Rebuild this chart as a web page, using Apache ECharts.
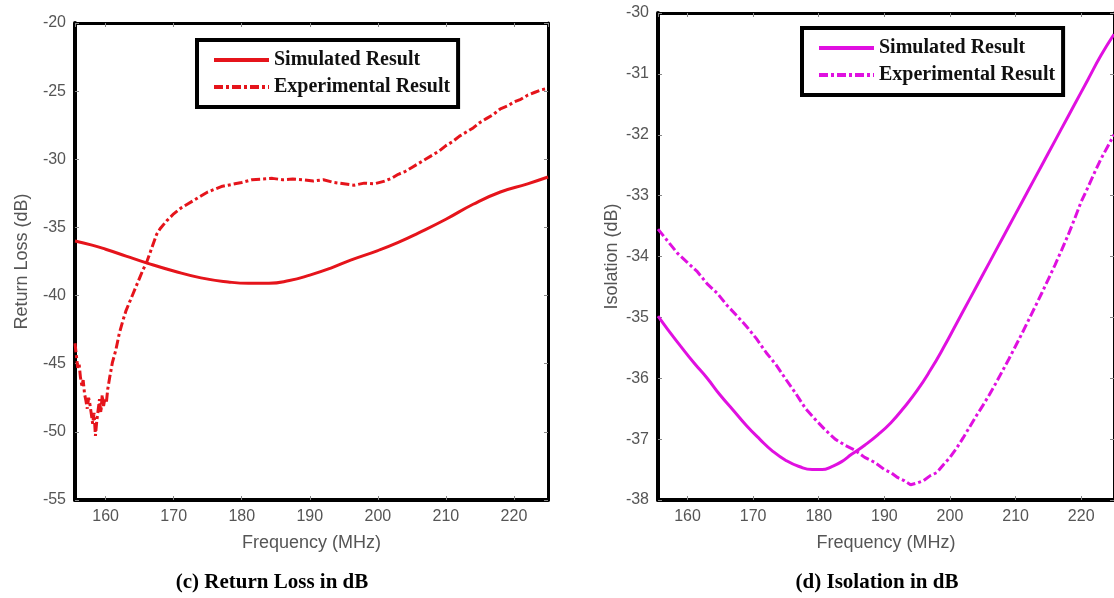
<!DOCTYPE html>
<html>
<head>
<meta charset="utf-8">
<script src="https://cdn.jsdelivr.net/npm/echarts@6/dist/echarts.min.js"></script>
<style>
html,body{margin:0;padding:0;background:#fff;}
#chart{width:1114px;height:598px;}
</style>
</head>
<body>
<div id="chart"></div>
<script>
// ---------- DATA ----------
const seriesNames = ['Simulated Result', 'Experimental Result'];
const captions = ['(c) Return Loss in dB', '(d) Isolation in dB'];
const yNames = ['Return Loss (dB)', 'Isolation (dB)'];
const xName = 'Frequency (MHz)';

// (c) Return loss – simulated [MHz, dB]
const rlSimulated = [
  [155.5,-36.0],[158,-36.3],[160,-36.6],[163,-37.1],[166,-37.6],[170,-38.2],
  [174,-38.7],[178,-39.0],[181,-39.1],[184,-39.1],[187,-38.9],[190,-38.5],
  [193,-38.0],[196,-37.4],[200,-36.7],[203,-36.1],[206,-35.4],[210,-34.4],
  [214,-33.3],[218,-32.4],[222,-31.8],[225,-31.3]
];
// (c) Return loss – experimental
const rlExperimental = [
  [155.5,-43.5],[155.7,-44.4],[155.9,-45.3],[156.1,-45.0],[156.3,-46.0],[156.5,-46.6],
  [156.7,-46.2],[156.9,-47.2],[157.1,-47.7],[157.3,-48.3],[157.5,-47.5],[157.7,-48.0],
  [157.9,-48.7],[158.1,-49.4],[158.3,-48.6],[158.5,-50.3],[158.7,-49.2],[158.9,-48.4],
  [159.1,-47.6],[159.3,-48.6],[159.5,-47.3],[159.7,-48.1],[159.9,-47.5],[160.1,-47.9],
  [160.3,-46.9],[160.6,-46.0],[161.0,-44.9],[161.5,-44.0],[162.0,-42.8],[162.5,-41.9],
  [163.0,-41.1],[163.5,-40.5],[164.0,-39.9],[164.5,-39.3],[165.0,-38.7],[165.5,-38.1],
  [166.0,-37.6],[166.5,-36.9],[167.0,-36.2],[167.5,-35.5],[168,-35.1],[169,-34.5],
  [170,-34.0],[171,-33.6],[172,-33.3],[173,-33.0],[174,-32.7],[175,-32.4],
  [176,-32.2],[177,-32.0],[178,-31.9],[179,-31.8],[180,-31.7],[181.5,-31.5],
  [183,-31.45],[184.5,-31.4],[186,-31.5],[187.5,-31.45],[189,-31.5],[190.5,-31.6],
  [192,-31.5],[193.5,-31.7],[195,-31.8],[196.5,-31.9],[198,-31.75],[199.5,-31.8],
  [201,-31.6],[202,-31.4],[203,-31.1],[204,-30.9],[205,-30.6],[206,-30.3],
  [207,-30.0],[208,-29.7],[209,-29.4],[210,-29.0],[211,-28.7],[212,-28.3],
  [213,-28.0],[214,-27.7],[215,-27.3],[216,-27.0],[217,-26.7],[218,-26.3],
  [219,-26.1],[220,-25.8],[221,-25.6],[222,-25.3],[223,-25.1],[224,-24.9],[225,-24.8]
];
// (d) Isolation – simulated
const isoSimulated = [
  [155.5,-34.98],[157,-35.2],[159,-35.48],[161,-35.75],[163,-36.0],[165,-36.28],
  [167,-36.53],[169,-36.78],[171,-37.0],[173,-37.2],[175,-37.35],[177,-37.45],
  [179,-37.5],[180.5,-37.5],[182,-37.45],[183.5,-37.37],[185,-37.25],[187,-37.1],
  [189,-36.93],[191,-36.73],[193,-36.48],[195,-36.2],[197,-35.87],[199,-35.5],
  [201,-35.1],[203,-34.7],[205,-34.3],[207,-33.9],[209,-33.5],[211,-33.1],
  [213,-32.7],[215,-32.3],[217,-31.9],[219,-31.5],[221,-31.1],[223,-30.7],[225,-30.35]
];
// (d) Isolation – experimental
const isoExperimental = [
  [155.5,-33.55],[157,-33.75],[158.5,-33.95],[160,-34.1],[161.5,-34.25],[163,-34.45],
  [164.5,-34.6],[166,-34.8],[167.5,-34.97],[169,-35.15],[170.5,-35.35],[172,-35.58],
  [173.5,-35.78],[175,-36.02],[176.5,-36.25],[178,-36.5],[179.5,-36.68],[181,-36.85],
  [182.5,-37.0],[184,-37.1],[185.5,-37.18],[187,-37.3],[188.5,-37.38],[190,-37.5],
  [191,-37.55],[192,-37.63],[193,-37.68],[194,-37.75],[195,-37.72],[196,-37.68],
  [197,-37.6],[198,-37.55],[199,-37.42],[200,-37.3],[201,-37.15],[202,-36.98],
  [203,-36.8],[204,-36.62],[205,-36.45],[206,-36.27],[207,-36.08],[208,-35.88],
  [209,-35.68],[210,-35.47],[211,-35.26],[212,-35.04],[213,-34.82],[214,-34.6],
  [215,-34.37],[216,-34.14],[217,-33.9],[218,-33.65],[219,-33.38],[220,-33.1],
  [221,-32.87],[222,-32.63],[223,-32.4],[224,-32.2],[225,-32.0]
];

const xRange = [155.5, 225];
const yRangeRL = [-55, -20];
const yRangeISO = [-38, -30];

// ---------- STYLE ----------
const RED = '#e5141b';
const MAG = '#e010e0';
const LABEL_GRAY = '#555';
const SANS = 'Liberation Sans, Arial, sans-serif';
const SERIF = 'Liberation Serif, Times New Roman, serif';
const DASHDOT = [9, 3, 3, 3];

const grids = [
  { left: 75, top: 23, width: 473, height: 477 },
  { left: 658, top: 13, width: 456, height: 487 }
];

function mainX(gi) {
  return {
    type: 'value', gridIndex: gi, min: xRange[0], max: xRange[1],
    minInterval: 10, maxInterval: 10,
    name: xName, nameLocation: 'middle', nameGap: 34,
    nameTextStyle: { fontFamily: SANS, fontSize: 18, color: LABEL_GRAY },
    axisLine: { show: true, lineStyle: { color: '#000', width: 4 } },
    axisTick: { show: true, inside: true, length: 4, lineStyle: { color: '#888', width: 1 } },
    axisLabel: { fontFamily: SANS, fontSize: 16, color: LABEL_GRAY, margin: 9,
                 showMinLabel: false, showMaxLabel: false },
    splitLine: { show: false }
  };
}
function topX(gi) {
  return {
    type: 'value', gridIndex: gi, min: xRange[0], max: xRange[1], position: 'top',
    minInterval: 10, maxInterval: 10,
    axisLine: { show: true, lineStyle: { color: '#000', width: 3 } },
    axisTick: { show: true, inside: true, length: 4, lineStyle: { color: '#888', width: 1 } },
    axisLabel: { show: false }, splitLine: { show: false }
  };
}
function mainY(gi, range, interval, name, gap) {
  return {
    type: 'value', gridIndex: gi, min: range[0], max: range[1], interval: interval,
    name: name, nameLocation: 'middle', nameGap: gap,
    nameTextStyle: { fontFamily: SANS, fontSize: 18, color: LABEL_GRAY },
    axisLine: { show: true, lineStyle: { color: '#000', width: 4 } },
    axisTick: { show: true, inside: true, length: 4, lineStyle: { color: '#888', width: 1 } },
    axisLabel: { fontFamily: SANS, fontSize: 16, color: LABEL_GRAY, margin: 9 },
    splitLine: { show: false }
  };
}
function rightY(gi, range, interval) {
  return {
    type: 'value', gridIndex: gi, min: range[0], max: range[1], interval: interval, position: 'right',
    axisLine: { show: true, lineStyle: { color: '#000', width: 3 } },
    axisTick: { show: true, inside: true, length: 4, lineStyle: { color: '#888', width: 1 } },
    axisLabel: { show: false }, splitLine: { show: false }
  };
}

function legendFor(pos, color) {
  const hidden = { color: 'rgba(0,0,0,0)', opacity: 0, borderWidth: 0 };
  return {
    orient: 'vertical', left: pos.left, top: pos.top,
    padding: [9, 8, 9, 15], itemGap: 5, itemWidth: 55, itemHeight: 14,
    borderColor: '#000', borderWidth: 4, backgroundColor: '#fff',
    selectedMode: false,
    textStyle: { fontFamily: SERIF, fontWeight: 'bold', fontSize: 20, color: '#111', lineHeight: 22 },
    itemStyle: hidden,
    lineStyle: { width: 4 },
    data: [
      { name: seriesNames[0], itemStyle: hidden, lineStyle: { color: color, type: 'solid', width: 4 } },
      { name: seriesNames[1], itemStyle: hidden, lineStyle: { color: color, type: DASHDOT, width: 4 } }
    ]
  };
}

function lineSeries(name, data, xi, yi, color, dashed) {
  return {
    name: name, type: 'line', data: data, xAxisIndex: xi, yAxisIndex: yi,
    symbol: 'none', showSymbol: false, smooth: dashed ? false : 0.5,
    lineStyle: { color: color, width: 3, type: dashed ? DASHDOT : 'solid' },
    itemStyle: { color: color },
    animation: false, z: dashed ? 3 : 4
  };
}

const option = {
  backgroundColor: '#fff',
  animation: false,
  title: [
    { text: captions[0], left: 272, top: 572, textAlign: 'center', padding: 0,
      textStyle: { fontFamily: SERIF, fontWeight: 'bold', fontSize: 21, color: '#000' } },
    { text: captions[1], left: 877, top: 572, textAlign: 'center', padding: 0,
      textStyle: { fontFamily: SERIF, fontWeight: 'bold', fontSize: 21, color: '#000' } }
  ],
  legend: [
    legendFor({ left: 197, top: 40 }, RED),
    legendFor({ left: 802, top: 28 }, MAG)
  ],
  grid: grids.map(g => Object.assign({ containLabel: false, show: false }, g)),
  xAxis: [mainX(0), topX(0), mainX(1), topX(1)],
  yAxis: [
    mainY(0, yRangeRL, 5, yNames[0], 44), rightY(0, yRangeRL, 5),
    mainY(1, yRangeISO, 1, yNames[1], 37), rightY(1, yRangeISO, 1)
  ],
  series: [
    lineSeries(seriesNames[0], rlSimulated, 0, 0, RED, false),
    lineSeries(seriesNames[1], rlExperimental, 0, 0, RED, true),
    lineSeries(seriesNames[0], isoSimulated, 2, 2, MAG, false),
    lineSeries(seriesNames[1], isoExperimental, 2, 2, MAG, true)
  ]
};

const chart = echarts.init(document.getElementById('chart'), null, { renderer: 'canvas' });
chart.setOption(option);
</script>
</body>
</html>
